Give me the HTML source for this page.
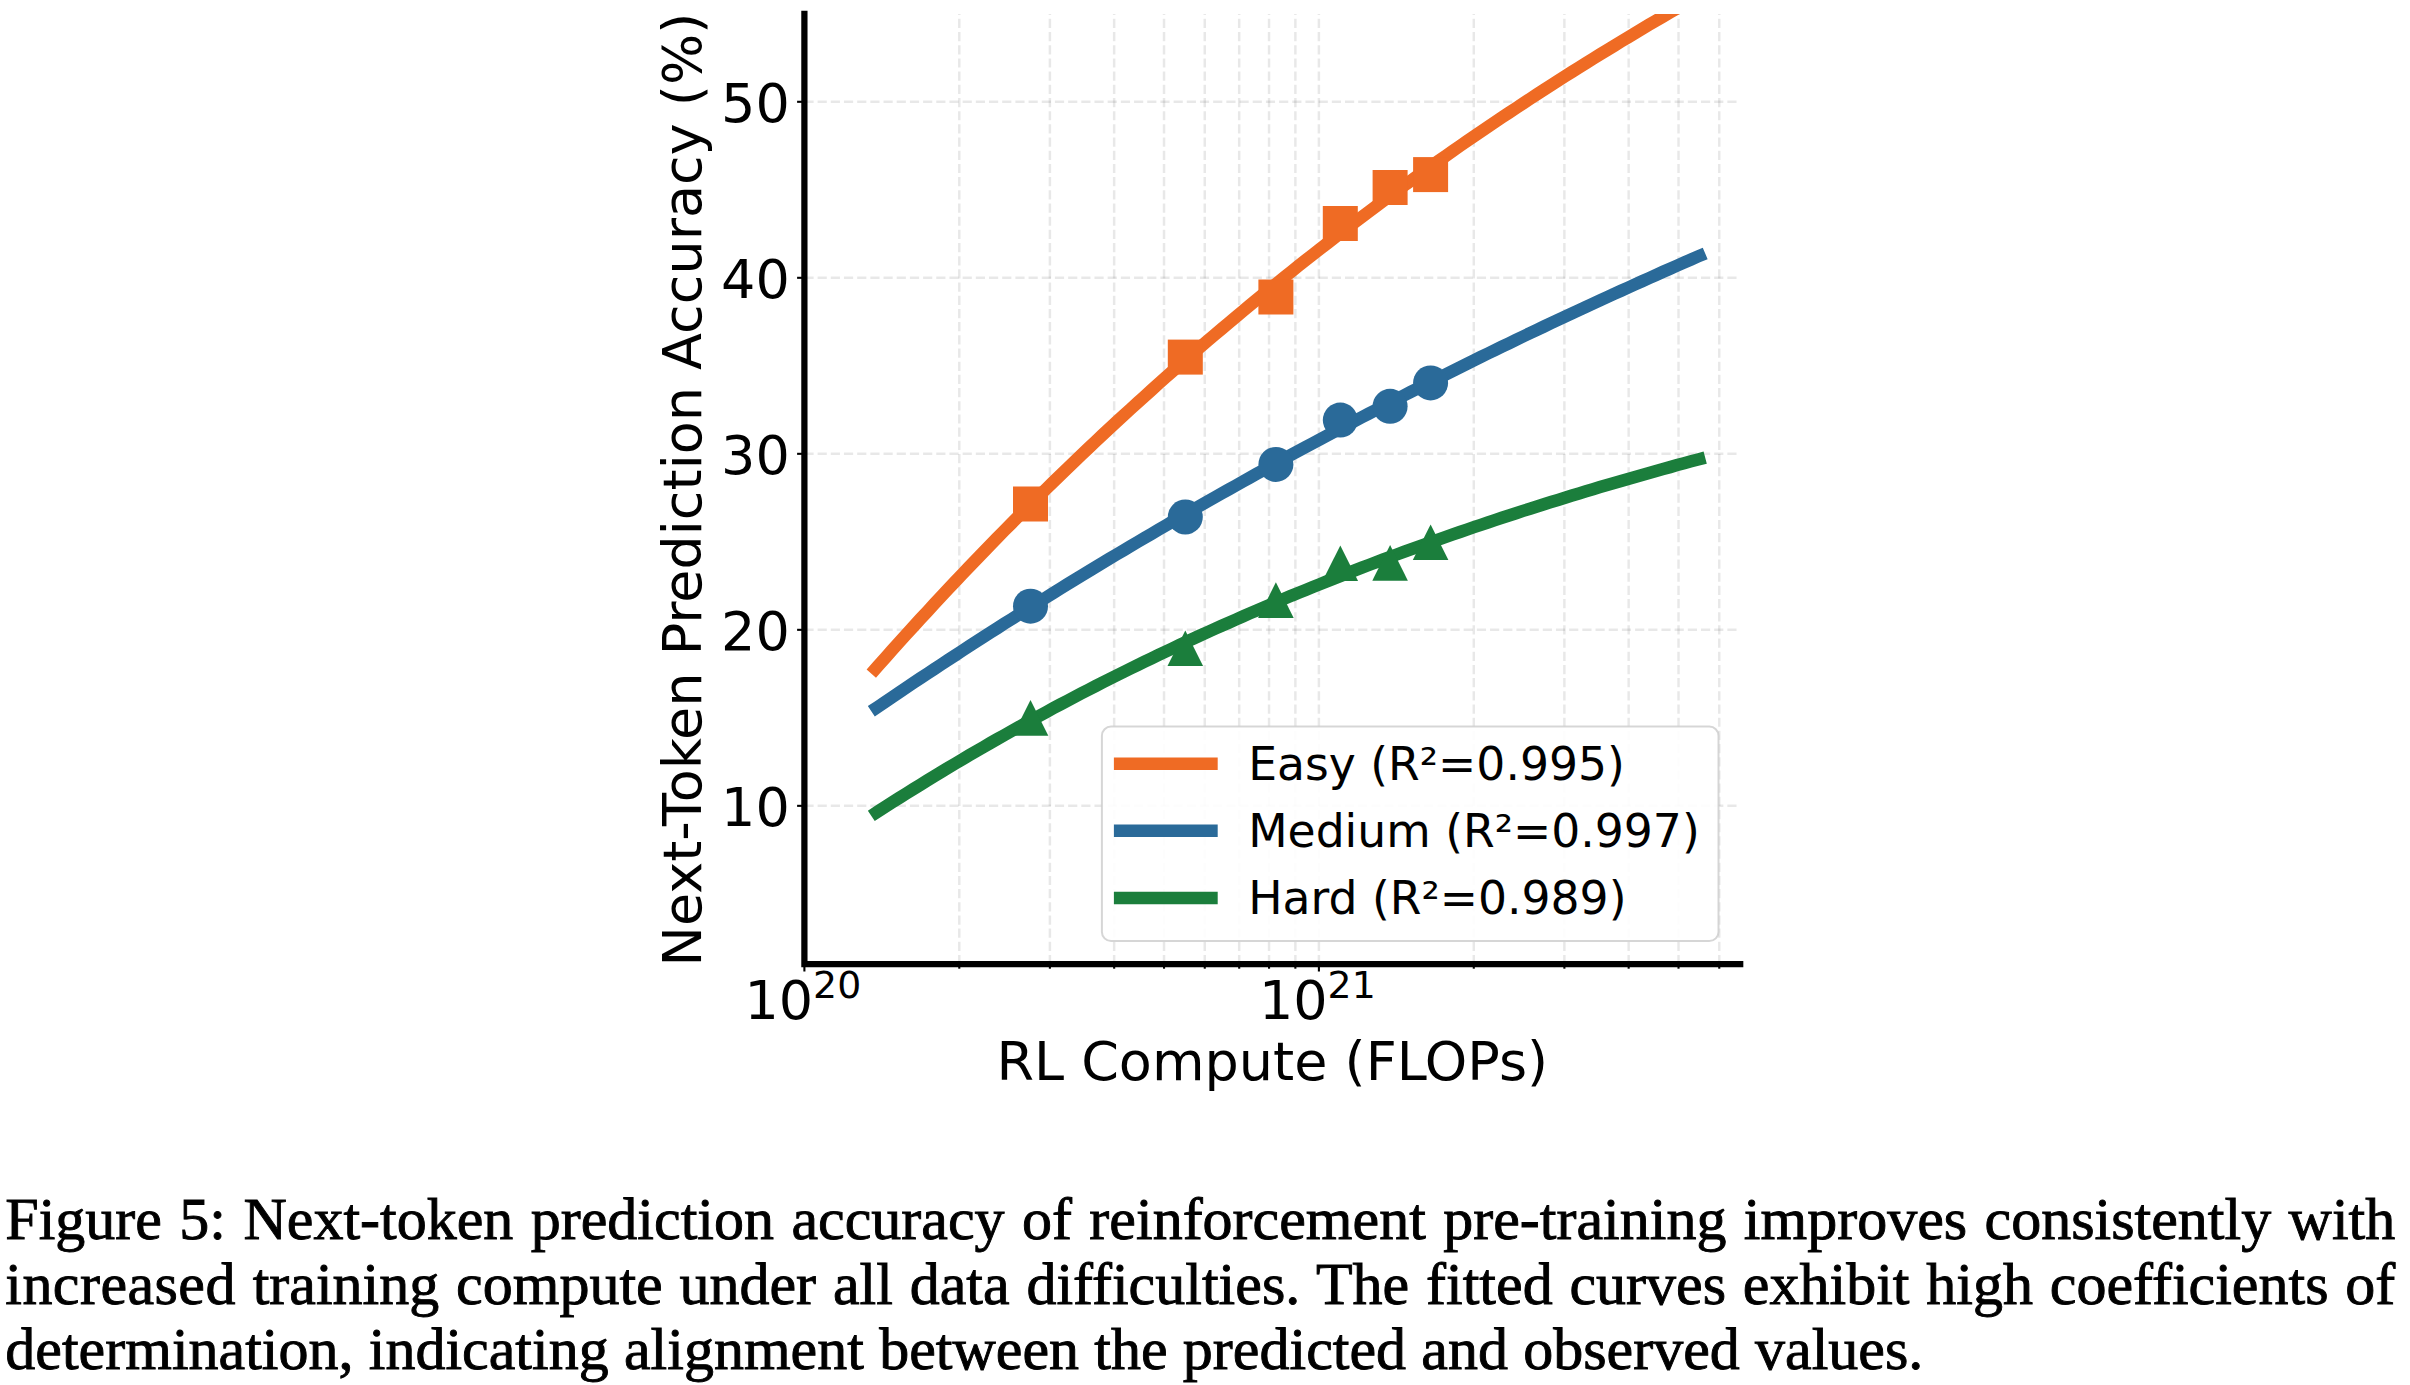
<!DOCTYPE html>
<html><head><meta charset="utf-8"><title>Figure 5</title>
<style>
html,body{margin:0;padding:0;background:#fff;}
body{width:2410px;height:1385px;position:relative;overflow:hidden;}
.cl{position:absolute;left:5.3px;width:2390px;height:60.0px;line-height:60.0px;font-family:"Liberation Serif","Times New Roman",serif;font-size:60.0px;color:#000;-webkit-text-stroke:0.9px #000;text-align:justify;text-align-last:justify;white-space:nowrap;}
.cl.last{text-align:left;text-align-last:left;width:auto;word-spacing:0.25px;}
</style></head><body>
<svg width="2410" height="1385" viewBox="0 0 2410 1385" style="position:absolute;left:0;top:0">
<defs><clipPath id="ax"><rect x="804.4" y="13.9" width="935.8000000000001" height="950.3000000000001"/></clipPath></defs>
<g stroke="#000" stroke-opacity="0.09" stroke-width="2.5" stroke-dasharray="9.21 3.975" fill="none">
<path d="M959.28,964.2 V13.9"/>
<path d="M1049.88,964.2 V13.9"/>
<path d="M1114.16,964.2 V13.9"/>
<path d="M1164.02,964.2 V13.9"/>
<path d="M1204.76,964.2 V13.9"/>
<path d="M1239.20,964.2 V13.9"/>
<path d="M1269.04,964.2 V13.9"/>
<path d="M1295.36,964.2 V13.9"/>
<path d="M1318.90,964.2 V13.9"/>
<path d="M1473.78,964.2 V13.9"/>
<path d="M1564.38,964.2 V13.9"/>
<path d="M1628.66,964.2 V13.9"/>
<path d="M1678.52,964.2 V13.9"/>
<path d="M1719.26,964.2 V13.9"/>
<path d="M804.4,805.84 H1740.2"/>
<path d="M804.4,629.83 H1740.2"/>
<path d="M804.4,453.82 H1740.2"/>
<path d="M804.4,277.81 H1740.2"/>
<path d="M804.4,101.80 H1740.2"/>
</g>
<g clip-path="url(#ax)" fill="none" stroke-linejoin="round">
<path d="M871.3,673.6 L878.3,665.7 L885.3,657.8 L892.3,649.9 L899.3,642.1 L906.3,634.4 L913.3,626.7 L920.3,619.0 L927.4,611.4 L934.4,603.8 L941.4,596.3 L948.4,588.8 L955.4,581.4 L962.4,574.0 L969.4,566.7 L976.4,559.4 L983.4,552.1 L990.4,544.9 L997.4,537.7 L1004.4,530.5 L1011.4,523.5 L1018.4,516.4 L1025.5,509.4 L1032.5,502.4 L1039.5,495.5 L1046.5,488.6 L1053.5,481.7 L1060.5,474.9 L1067.5,468.2 L1074.5,461.4 L1081.5,454.7 L1088.5,448.1 L1095.5,441.5 L1102.5,434.9 L1109.5,428.4 L1116.5,421.9 L1123.6,415.4 L1130.6,409.0 L1137.6,402.6 L1144.6,396.3 L1151.6,390.0 L1158.6,383.7 L1165.6,377.4 L1172.6,371.2 L1179.6,365.1 L1186.6,359.0 L1193.6,352.9 L1200.6,346.8 L1207.6,340.8 L1214.7,334.8 L1221.7,328.9 L1228.7,322.9 L1235.7,317.1 L1242.7,311.2 L1249.7,305.4 L1256.7,299.6 L1263.7,293.9 L1270.7,288.2 L1277.7,282.5 L1284.7,276.9 L1291.7,271.3 L1298.7,265.7 L1305.7,260.1 L1312.8,254.6 L1319.8,249.1 L1326.8,243.7 L1333.8,238.3 L1340.8,232.9 L1347.8,227.5 L1354.8,222.2 L1361.8,216.9 L1368.8,211.7 L1375.8,206.4 L1382.8,201.2 L1389.8,196.1 L1396.8,190.9 L1403.8,185.8 L1410.8,180.8 L1417.9,175.7 L1424.9,170.7 L1431.9,165.7 L1438.9,160.7 L1445.9,155.8 L1452.9,150.9 L1459.9,146.0 L1466.9,141.2 L1473.9,136.4 L1480.9,131.6 L1487.9,126.8 L1494.9,122.1 L1501.9,117.4 L1509.0,112.7 L1516.0,108.1 L1523.0,103.5 L1530.0,98.9 L1537.0,94.3 L1544.0,89.7 L1551.0,85.2 L1558.0,80.7 L1565.0,76.3 L1572.0,71.9 L1579.0,67.4 L1586.0,63.1 L1593.0,58.7 L1600.0,54.4 L1607.1,50.1 L1614.1,45.8 L1621.1,41.5 L1628.1,37.3 L1635.1,33.1 L1642.1,28.9 L1649.1,24.7 L1656.1,20.6 L1663.1,16.5 L1670.1,12.4 L1677.1,8.4 L1684.1,4.3 L1691.1,0.3 L1698.1,-3.7 L1705.2,-7.7" stroke="#EF6B24" stroke-width="12.5"/>
<path d="M871.3,711.3 L878.3,706.6 L885.3,701.8 L892.3,697.1 L899.3,692.3 L906.3,687.6 L913.3,682.9 L920.3,678.3 L927.4,673.6 L934.4,669.0 L941.4,664.4 L948.4,659.8 L955.4,655.2 L962.4,650.6 L969.4,646.1 L976.4,641.6 L983.4,637.0 L990.4,632.5 L997.4,628.1 L1004.4,623.6 L1011.4,619.2 L1018.4,614.7 L1025.5,610.3 L1032.5,605.9 L1039.5,601.6 L1046.5,597.2 L1053.5,592.9 L1060.5,588.5 L1067.5,584.2 L1074.5,579.9 L1081.5,575.7 L1088.5,571.4 L1095.5,567.1 L1102.5,562.9 L1109.5,558.7 L1116.5,554.5 L1123.6,550.3 L1130.6,546.2 L1137.6,542.0 L1144.6,537.9 L1151.6,533.8 L1158.6,529.7 L1165.6,525.6 L1172.6,521.5 L1179.6,517.4 L1186.6,513.4 L1193.6,509.4 L1200.6,505.4 L1207.6,501.4 L1214.7,497.4 L1221.7,493.4 L1228.7,489.5 L1235.7,485.6 L1242.7,481.6 L1249.7,477.7 L1256.7,473.8 L1263.7,470.0 L1270.7,466.1 L1277.7,462.3 L1284.7,458.4 L1291.7,454.6 L1298.7,450.8 L1305.7,447.0 L1312.8,443.3 L1319.8,439.5 L1326.8,435.8 L1333.8,432.0 L1340.8,428.3 L1347.8,424.6 L1354.8,420.9 L1361.8,417.3 L1368.8,413.6 L1375.8,410.0 L1382.8,406.3 L1389.8,402.7 L1396.8,399.1 L1403.8,395.5 L1410.8,391.9 L1417.9,388.4 L1424.9,384.8 L1431.9,381.3 L1438.9,377.8 L1445.9,374.3 L1452.9,370.8 L1459.9,367.3 L1466.9,363.8 L1473.9,360.4 L1480.9,356.9 L1487.9,353.5 L1494.9,350.1 L1501.9,346.7 L1509.0,343.3 L1516.0,339.9 L1523.0,336.5 L1530.0,333.2 L1537.0,329.8 L1544.0,326.5 L1551.0,323.2 L1558.0,319.9 L1565.0,316.6 L1572.0,313.3 L1579.0,310.1 L1586.0,306.8 L1593.0,303.6 L1600.0,300.3 L1607.1,297.1 L1614.1,293.9 L1621.1,290.7 L1628.1,287.6 L1635.1,284.4 L1642.1,281.2 L1649.1,278.1 L1656.1,275.0 L1663.1,271.8 L1670.1,268.7 L1677.1,265.6 L1684.1,262.6 L1691.1,259.5 L1698.1,256.4 L1705.2,253.4" stroke="#2A6A99" stroke-width="12.5"/>
<path d="M871.3,815.9 L878.3,811.3 L885.3,806.8 L892.3,802.3 L899.3,797.9 L906.3,793.5 L913.3,789.1 L920.3,784.8 L927.4,780.4 L934.4,776.2 L941.4,771.9 L948.4,767.7 L955.4,763.5 L962.4,759.4 L969.4,755.2 L976.4,751.1 L983.4,747.1 L990.4,743.0 L997.4,739.0 L1004.4,735.1 L1011.4,731.1 L1018.4,727.2 L1025.5,723.3 L1032.5,719.5 L1039.5,715.7 L1046.5,711.9 L1053.5,708.1 L1060.5,704.4 L1067.5,700.7 L1074.5,697.0 L1081.5,693.3 L1088.5,689.7 L1095.5,686.1 L1102.5,682.5 L1109.5,679.0 L1116.5,675.5 L1123.6,672.0 L1130.6,668.5 L1137.6,665.1 L1144.6,661.7 L1151.6,658.3 L1158.6,654.9 L1165.6,651.6 L1172.6,648.3 L1179.6,645.0 L1186.6,641.7 L1193.6,638.5 L1200.6,635.3 L1207.6,632.1 L1214.7,628.9 L1221.7,625.8 L1228.7,622.7 L1235.7,619.6 L1242.7,616.5 L1249.7,613.4 L1256.7,610.4 L1263.7,607.4 L1270.7,604.4 L1277.7,601.5 L1284.7,598.6 L1291.7,595.6 L1298.7,592.8 L1305.7,589.9 L1312.8,587.0 L1319.8,584.2 L1326.8,581.4 L1333.8,578.6 L1340.8,575.9 L1347.8,573.1 L1354.8,570.4 L1361.8,567.7 L1368.8,565.0 L1375.8,562.4 L1382.8,559.7 L1389.8,557.1 L1396.8,554.5 L1403.8,551.9 L1410.8,549.4 L1417.9,546.8 L1424.9,544.3 L1431.9,541.8 L1438.9,539.3 L1445.9,536.9 L1452.9,534.4 L1459.9,532.0 L1466.9,529.6 L1473.9,527.2 L1480.9,524.8 L1487.9,522.5 L1494.9,520.1 L1501.9,517.8 L1509.0,515.5 L1516.0,513.2 L1523.0,510.9 L1530.0,508.7 L1537.0,506.5 L1544.0,504.2 L1551.0,502.0 L1558.0,499.9 L1565.0,497.7 L1572.0,495.5 L1579.0,493.4 L1586.0,491.3 L1593.0,489.2 L1600.0,487.1 L1607.1,485.0 L1614.1,483.0 L1621.1,480.9 L1628.1,478.9 L1635.1,476.9 L1642.1,474.9 L1649.1,472.9 L1656.1,470.9 L1663.1,469.0 L1670.1,467.1 L1677.1,465.1 L1684.1,463.2 L1691.1,461.3 L1698.1,459.5 L1705.2,457.6" stroke="#1B7E3C" stroke-width="12.5"/>
<rect x="1013.0" y="486.5" width="35.0" height="35.0" fill="#EF6B24"/>
<rect x="1167.8" y="339.6" width="35.0" height="35.0" fill="#EF6B24"/>
<rect x="1258.4" y="279.5" width="35.0" height="35.0" fill="#EF6B24"/>
<rect x="1322.8" y="206.0" width="35.0" height="35.0" fill="#EF6B24"/>
<rect x="1372.6" y="170.0" width="35.0" height="35.0" fill="#EF6B24"/>
<rect x="1413.1" y="157.1" width="35.0" height="35.0" fill="#EF6B24"/>
<circle cx="1030.5" cy="606.2" r="17.5" fill="#2A6A99"/>
<circle cx="1185.3" cy="517.0" r="17.5" fill="#2A6A99"/>
<circle cx="1275.9" cy="464.4" r="17.5" fill="#2A6A99"/>
<circle cx="1340.3" cy="420.1" r="17.5" fill="#2A6A99"/>
<circle cx="1390.1" cy="406.3" r="17.5" fill="#2A6A99"/>
<circle cx="1430.6" cy="382.9" r="17.5" fill="#2A6A99"/>
<path d="M1030.5,700.1 L1048.3,735.7 L1012.7,735.7 Z" fill="#1B7E3C"/>
<path d="M1185.3,630.4 L1203.1,666.0 L1167.5,666.0 Z" fill="#1B7E3C"/>
<path d="M1275.9,582.3 L1293.7,617.9 L1258.1,617.9 Z" fill="#1B7E3C"/>
<path d="M1340.3,545.4 L1358.1,581.0 L1322.5,581.0 Z" fill="#1B7E3C"/>
<path d="M1390.1,545.1 L1407.9,580.7 L1372.3,580.7 Z" fill="#1B7E3C"/>
<path d="M1430.6,524.4 L1448.4,560.0 L1412.8,560.0 Z" fill="#1B7E3C"/>
</g>
<g stroke="#000" stroke-width="2.1" fill="none">
<path d="M804.40,964.2 v7.3"/>
<path d="M959.28,964.2 v4.5"/>
<path d="M1049.88,964.2 v4.5"/>
<path d="M1114.16,964.2 v4.5"/>
<path d="M1164.02,964.2 v4.5"/>
<path d="M1204.76,964.2 v4.5"/>
<path d="M1239.20,964.2 v4.5"/>
<path d="M1269.04,964.2 v4.5"/>
<path d="M1295.36,964.2 v4.5"/>
<path d="M1318.90,964.2 v7.3"/>
<path d="M1473.78,964.2 v4.5"/>
<path d="M1564.38,964.2 v4.5"/>
<path d="M1628.66,964.2 v4.5"/>
<path d="M1678.52,964.2 v4.5"/>
<path d="M1719.26,964.2 v4.5"/>
<path d="M804.4,805.84 h-7.3"/>
<path d="M804.4,629.83 h-7.3"/>
<path d="M804.4,453.82 h-7.3"/>
<path d="M804.4,277.81 h-7.3"/>
<path d="M804.4,101.80 h-7.3"/>
</g>
<path d="M804.4,13.9 V964.2 H1740.2" fill="none" stroke="#000" stroke-width="6.25" stroke-linecap="square" stroke-linejoin="miter"/>
<g font-family="'DejaVu Sans', 'Liberation Sans', sans-serif" fill="#000">
<text x="789.8" y="825.6" font-size="54.0" text-anchor="end">10</text>
<text x="789.8" y="649.6" font-size="54.0" text-anchor="end">20</text>
<text x="789.8" y="473.6" font-size="54.0" text-anchor="end">30</text>
<text x="789.8" y="297.6" font-size="54.0" text-anchor="end">40</text>
<text x="789.8" y="121.6" font-size="54.0" text-anchor="end">50</text>
<text x="744.4" y="1018.7" font-size="54.0">10<tspan font-size="37.80" dx="0" dy="-20.8">20</tspan></text>
<text x="1258.9" y="1018.7" font-size="54.0">10<tspan font-size="37.80" dx="0" dy="-20.8">21</tspan></text>
<text x="1272.3" y="1079.8" font-size="54.0" text-anchor="middle">RL Compute (FLOPs)</text>
<text transform="translate(701.4,489.6) rotate(-90)" font-size="54.0" text-anchor="middle">Next-Token Prediction Accuracy (%)</text>
<rect x="1101.9" y="726.5" width="616.6" height="214.6" rx="9.2" ry="9.2" fill="#fff" fill-opacity="0.9" stroke="#ccc" stroke-opacity="0.8" stroke-width="2"/>
<path d="M1113.9,763.7 H1217.7" stroke="#EF6B24" stroke-width="12.5" fill="none"/>
<text x="1248.2" y="779.9" font-size="45.65">Easy (R²=0.995)</text>
<path d="M1113.9,830.8 H1217.7" stroke="#2A6A99" stroke-width="12.5" fill="none"/>
<text x="1248.2" y="847.0" font-size="45.65">Medium (R²=0.997)</text>
<path d="M1113.9,897.9 H1217.7" stroke="#1B7E3C" stroke-width="12.5" fill="none"/>
<text x="1248.2" y="914.1" font-size="45.65">Hard (R²=0.989)</text>
</g>
</svg>
<div class="cl" style="top:1188.50px;">Figure 5: Next-token prediction accuracy of reinforcement pre-training improves consistently with</div><div class="cl" style="top:1253.80px;"><span style="letter-spacing:0.45px">increased</span> training compute under all data difficulties. The fitted curves exhibit high coefficients of</div><div class="cl last" style="top:1319.10px;">determination, indicating alignment between the predicted and observed values.</div>
</body></html>
